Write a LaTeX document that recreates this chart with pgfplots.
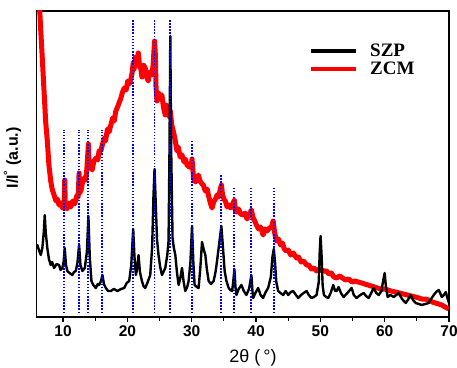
\documentclass[border=0pt]{standalone}
\usepackage{fontspec}
\setmainfont{Liberation Serif}
\setsansfont{Liberation Sans}
\usepackage{pgfplots}
\pgfplotsset{compat=1.18}
\begin{document}
\begin{tikzpicture}
\useasboundingbox (-36.7pt,-50pt) rectangle (420.3pt,317pt);
\begin{axis}[
  at={(0,0)}, anchor=south west,
  scale only axis, width=412.3pt, height=306pt,
  xmin=5.9, xmax=70, ymin=0, ymax=306,
  xtick={10,20,...,70}, minor x tick num=1,
  xtick pos=left, tick align=outside,
  major tick length=5pt, minor tick length=4pt,
  ytick=\empty,
  axis line style={line width=1.4pt},
  every tick/.style={line width=1.2pt, black},
  /pgf/number format/assume math mode=true,
  tick label style={font=\fontsize{15.5}{18}\selectfont\sffamily\bfseries},
  every axis x label/.style={at={(axis description cs:0.5246,-0.134)}, anchor=center},
  every axis y label/.style={at={(axis description cs:-0.0587,0.52)}, anchor=center, rotate=90},
  xlabel={\fontsize{18}{20}\selectfont\sffamily 2θ (\,°)},
  ylabel={\fontsize{16}{18}\selectfont\sffamily\bfseries I/I\textsuperscript{°} (a.u.)},
  legend style={draw=none, fill=none, at={(axis description cs:0.660,0.90)}, anchor=north west,
    font=\fontsize{19}{21}\selectfont\bfseries, row sep=0pt, inner sep=0pt},
  legend cell align=left,
  reverse legend,
  legend image code/.code={\draw[#1, line width=3.4pt] (0pt,0pt) -- (45pt,0pt); \path (55pt,0pt);},
  bluedot/.style={color=blue, line width=1.9pt, dash pattern=on 1.5pt off 1.6pt, forget plot},
]
% ZCM (red)
\addplot[red, line width=5pt, line join=round] coordinates {
(6.2,330) (6.5,290) (6.8,255) (7.04,226) (7.3,195) (7.55,176) (7.8,152) (8.08,136) (8.3,128) (8.6,122)
(8.9,116) (9.1,118) (9.38,112) (9.6,114) (9.9,109) (10.16,111) (10.26,137) (10.35,112) (10.6,108) (10.9,114)
(11.2,110) (11.5,116) (11.8,113) (12.18,122) (12.35,120) (12.49,144) (12.6,124) (12.8,127) (13.0,134) (13.27,139)
(13.5,137) (13.7,148) (13.94,173) (14.05,150) (14.2,152) (14.52,147) (14.8,156) (15.14,159) (15.4,157) (15.6,166)
(15.87,166) (16.1,172) (16.39,179) (16.6,176) (16.9,188) (17.15,185) (17.43,192) (17.7,199) (17.95,196) (18.2,206)
(18.41,209) (18.7,214) (18.95,218) (19.2,224) (19.5,229) (19.8,227) (20.05,236) (20.3,233) (20.55,238) (20.75,245)
(20.9,254) (21.05,248) (21.25,260) (21.53,256) (21.7,264) (21.9,250) (22.1,248) (22.26,240) (22.5,252) (22.77,249)
(23.0,240) (23.24,236) (23.5,245) (23.82,242) (24.0,252) (24.22,276) (24.35,262) (24.45,230) (24.6,216) (24.9,224)
(25.1,218) (25.37,222) (25.6,210) (25.89,202) (26.1,212) (26.36,209) (26.55,200) (26.67,206) (26.9,192) (27.13,186)
(27.4,178) (27.71,166) (27.9,170) (28.2,160) (28.49,162) (28.8,155) (29.0,158) (29.27,152) (29.6,150) (29.9,150)
(30.05,158) (30.3,138) (30.6,135) (31.03,142) (31.3,136) (31.6,133) (31.81,132) (32.1,126) (32.4,128) (32.59,122)
(32.9,114) (33.16,109) (33.4,115) (33.7,118) (33.94,122) (34.2,120) (34.45,128) (34.61,132) (34.8,122) (35.0,118)
(35.23,116) (35.5,110) (35.8,112) (36.01,109) (36.3,112) (36.64,117) (36.8,106) (36.95,105) (37.3,108) (37.6,103)
(37.99,102) (38.3,104) (38.6,98) (38.9,102) (39.28,107) (39.5,100) (39.8,96) (40.06,92) (40.4,88) (40.7,90)
(41.1,82) (41.4,88) (41.7,86) (42.09,89) (42.4,90) (42.66,96) (42.9,84) (43.18,76) (43.5,78) (43.8,72)
(44.1,74) (44.4,68) (44.74,66) (45.0,67) (45.4,62) (45.8,64) (46.29,59) (46.6,60) (47.0,55) (47.4,56)
(47.85,52) (48.2,52) (48.6,48) (49.0,49) (49.41,46) (49.8,48) (50.19,47) (50.6,46) (50.97,46) (51.3,43)
(51.7,44) (52.1,40) (52.52,39) (53.0,41) (53.46,39) (53.9,37) (54.4,38) (54.9,35) (55.4,36) (55.9,35)
(56.42,34) (56.9,33) (57.4,32) (57.9,31) (58.4,30) (58.9,29) (59.4,28) (60.0,28) (60.5,27) (61.0,26)
(61.67,25) (62.3,24) (62.9,23) (63.5,22) (64.1,21) (64.78,20) (65.3,19) (65.8,18) (66.3,18) (66.85,17)
(67.4,15) (67.9,14) (68.4,13) (68.88,12) (69.4,10) (69.97,8)
};
\addlegendentry{ZCM}
% SZP (black)
\addplot[black, line width=2.4pt, line join=round] coordinates {
(5.9,70) (6.0,72) (6.3,66) (6.53,62) (6.78,69) (7.0,85) (7.15,102) (7.3,85) (7.55,69) (7.8,58)
(8.08,52) (8.3,55) (8.6,49) (9.0,53) (9.38,52) (9.6,47) (9.89,49) (10.1,56) (10.26,69) (10.45,52)
(10.67,46) (11.0,44) (11.45,42) (11.7,45) (11.98,46) (12.25,55) (12.49,72) (12.7,52) (13.0,46) (13.38,49)
(13.7,65) (13.94,101) (14.15,60) (14.41,36) (14.7,32) (15.09,29) (15.4,33) (15.61,32) (15.9,36) (16.12,42)
(16.35,33) (16.65,29) (17.0,26) (17.43,26) (17.9,28) (18.46,26) (19.0,28) (19.5,29) (19.9,34) (20.28,36)
(20.6,52) (20.9,88) (21.1,60) (21.32,42) (21.5,48) (21.73,62) (21.95,45) (22.26,36) (22.5,31) (22.77,29)
(23.1,34) (23.55,42) (23.85,70) (24.05,120) (24.22,148) (24.4,115) (24.6,78) (24.84,62) (25.1,50) (25.37,42)
(25.6,45) (25.89,49) (26.2,62) (26.4,76) (26.55,170) (26.67,281) (26.8,170) (27.02,79) (27.2,70) (27.45,62)
(27.7,45) (27.96,32) (28.2,38) (28.49,49) (28.75,35) (29.0,26) (29.3,30) (29.52,36) (29.8,55) (30.05,91)
(30.25,55) (30.45,32) (30.8,30) (31.07,29) (31.35,50) (31.6,75) (31.85,68) (32.12,62) (32.35,48) (32.63,36)
(33.0,33) (33.41,36) (33.7,45) (33.94,56) (34.3,75) (34.61,91) (34.85,70) (35.12,46) (35.4,36) (35.75,29)
(36.0,27) (36.28,26) (36.45,35) (36.64,48) (36.8,30) (36.95,22) (37.3,28) (37.73,32) (38.1,26) (38.5,22)
(38.9,28) (39.1,35) (39.28,42) (39.45,25) (39.55,19) (39.9,24) (40.33,29) (40.7,22) (41.1,19) (41.5,25)
(41.88,29) (42.3,40) (42.55,60) (42.76,68) (42.95,55) (43.15,35) (43.44,26) (43.8,24) (44.22,22) (44.6,26)
(45.0,22) (45.4,25) (45.78,26) (46.2,22) (46.56,19) (47.0,22) (47.4,24) (47.85,26) (48.2,22) (48.63,19)
(49.0,20) (49.41,22) (49.75,35) (49.9,65) (50.03,81) (50.2,60) (50.35,32) (50.55,22) (50.9,20) (51.23,19)
(51.6,24) (52.01,32) (52.3,26) (52.52,26) (52.83,30) (53.2,24) (53.61,20) (54.2,24) (54.86,29) (55.2,22)
(55.64,19) (56.2,22) (56.73,24) (57.1,21) (57.51,19) (57.9,24) (58.29,29) (58.7,24) (59.07,22) (59.5,26)
(59.75,36) (60.0,44) (60.2,30) (60.47,20) (60.9,22) (61.4,20) (61.8,22) (62.18,24) (62.7,18) (63.27,14)
(63.7,18) (64.05,22) (64.4,17) (64.83,14) (65.3,13) (65.76,12) (66.3,13) (66.85,14) (67.2,18) (67.63,22)
(68.0,25) (68.41,27) (68.88,20) (69.2,22) (69.5,25) (69.8,18) (70.0,14)
};
\addlegendentry{SZP}
% reference lines (blue dotted)
\addplot[bluedot] coordinates {(10.2,4) (10.2,187)};
\addplot[bluedot] coordinates {(12.49,4) (12.49,187)};
\addplot[bluedot] coordinates {(13.94,4) (13.94,187)};
\addplot[bluedot] coordinates {(16.12,4) (16.12,187)};
\addplot[bluedot] coordinates {(20.9,4) (20.9,297)};
\addplot[bluedot] coordinates {(24.22,4) (24.22,297)};
\addplot[bluedot] coordinates {(26.67,4) (26.67,297)};
\addplot[bluedot] coordinates {(30.05,4) (30.05,177)};
\addplot[bluedot] coordinates {(34.61,4) (34.61,142)};
\addplot[bluedot] coordinates {(36.64,4) (36.64,129)};
\addplot[bluedot] coordinates {(39.28,4) (39.28,129)};
\addplot[bluedot] coordinates {(42.76,4) (42.76,129)};
\end{axis}
\end{tikzpicture}
\end{document}
